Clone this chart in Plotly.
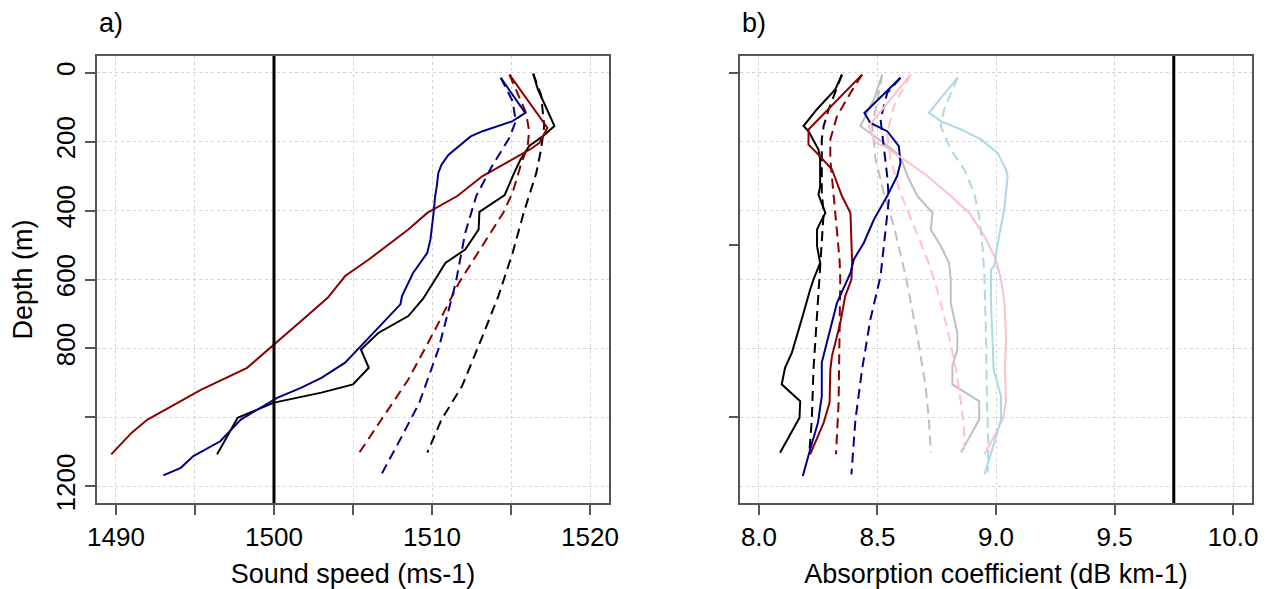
import plotly.graph_objects as go

# ---------------- Panel a: sound speed (m s-1) vs depth (m) ----------------
ss_black_solid_depth = [3, 49, 155, 185, 213, 252, 291, 355, 404, 455, 513, 552, 600, 655, 706, 755, 803, 856, 904, 928, 957, 1001, 1107]
ss_black_solid = [1516.4, 1516.7, 1517.75, 1517.0, 1516.15, 1515.6, 1515.2, 1514.6, 1513.0, 1512.95, 1512.1, 1510.85, 1510.2, 1509.45, 1508.5, 1506.6, 1505.5, 1506.0, 1505.0, 1503.0, 1500.0, 1497.7, 1496.4]

ss_black_dash_depth = [3, 64, 155, 223, 291, 407, 523, 648, 764, 909, 1006, 1102]
ss_black_dash = [1516.4, 1516.9, 1517.1, 1516.9, 1516.6, 1515.8, 1515.1, 1514.2, 1513.2, 1511.9, 1510.6, 1509.7]

ss_red_solid_depth = [6, 160, 204, 223, 267, 300, 358, 407, 455, 542, 590, 653, 721, 788, 856, 919, 1006, 1044, 1107]
ss_red_solid = [1514.9, 1517.3, 1516.8, 1516.2, 1514.5, 1513.2, 1511.6, 1509.7, 1508.5, 1506.0, 1504.5, 1503.4, 1501.7, 1500.0, 1498.3, 1495.4, 1492.0, 1491.0, 1489.7]

ss_red_dash_depth = [6, 117, 170, 213, 271, 348, 407, 503, 610, 745, 890, 1006, 1102]
ss_red_dash = [1514.9, 1515.95, 1516.15, 1516.05, 1515.6, 1515.1, 1514.5, 1513.2, 1511.7, 1510.2, 1508.5, 1506.8, 1505.4]

ss_blue_solid_depth = [15, 117, 141, 155, 170, 185, 213, 238, 267, 291, 330, 358, 407, 484, 523, 581, 648, 672, 759, 841, 885, 914, 943, 1006, 1069, 1112, 1146, 1168]
ss_blue_solid = [1514.35, 1515.9, 1515.1, 1514.2, 1513.2, 1512.45, 1511.7, 1511.05, 1510.6, 1510.4, 1510.3, 1510.2, 1510.1, 1509.9, 1509.7, 1508.8, 1508.1, 1508.0, 1506.2, 1504.5, 1503.0, 1501.7, 1500.2, 1497.9, 1496.6, 1494.9, 1494.1, 1493.0]

ss_blue_dash_depth = [15, 83, 141, 189, 271, 358, 465, 610, 803, 957, 1054, 1165]
ss_blue_dash = [1514.35, 1515.1, 1515.3, 1514.9, 1513.8, 1512.8, 1512.1, 1511.5, 1510.4, 1509.2, 1508.1, 1506.8]

ss_reference_line = 1500

# ---------------- Panel b: absorption coefficient (dB km-1) vs depth ----------------
ab_black_solid_depth = [6, 49, 107, 155, 170, 223, 252, 330, 354, 407, 436, 455, 503, 552, 600, 629, 697, 764, 812, 856, 904, 953, 1001, 1102]
ab_black_solid = [8.350, 8.322, 8.244, 8.188, 8.209, 8.251, 8.258, 8.258, 8.251, 8.280, 8.258, 8.245, 8.245, 8.258, 8.230, 8.216, 8.188, 8.160, 8.139, 8.110, 8.096, 8.174, 8.171, 8.089]

ab_black_dash_depth = [6, 107, 155, 194, 252, 349, 407, 494, 590, 716, 861, 1006, 1098]
ab_black_dash = [8.350, 8.294, 8.273, 8.265, 8.265, 8.265, 8.273, 8.265, 8.256, 8.245, 8.230, 8.223, 8.213]

ab_red_solid_depth = [6, 165, 209, 243, 281, 358, 407, 552, 600, 648, 726, 822, 861, 957, 1015, 1107]
ab_red_solid = [8.435, 8.209, 8.209, 8.258, 8.308, 8.350, 8.386, 8.393, 8.390, 8.364, 8.343, 8.308, 8.301, 8.298, 8.273, 8.216]

ab_red_dash_depth = [6, 59, 127, 194, 252, 349, 445, 542, 600, 764, 957, 1107]
ab_red_dash = [8.435, 8.386, 8.329, 8.301, 8.301, 8.315, 8.329, 8.340, 8.343, 8.340, 8.336, 8.325]

ab_blue_solid_depth = [15, 117, 146, 170, 213, 262, 300, 358, 426, 494, 542, 581, 668, 764, 841, 938, 1015, 1093, 1170]
ab_blue_solid = [8.597, 8.445, 8.470, 8.541, 8.590, 8.597, 8.583, 8.541, 8.485, 8.442, 8.400, 8.386, 8.329, 8.294, 8.265, 8.265, 8.249, 8.216, 8.185]

ab_blue_dash_depth = [15, 59, 136, 213, 300, 368, 465, 590, 716, 861, 1006, 1165]
ab_blue_dash = [8.597, 8.541, 8.513, 8.527, 8.541, 8.548, 8.534, 8.513, 8.470, 8.435, 8.407, 8.390]

ab_grey_solid_depth = [6, 78, 155, 175, 204, 243, 300, 358, 407, 455, 503, 552, 600, 668, 755, 803, 851, 904, 953, 1006, 1102]
ab_grey_solid = [8.520, 8.485, 8.428, 8.470, 8.527, 8.597, 8.626, 8.668, 8.732, 8.725, 8.767, 8.802, 8.809, 8.809, 8.837, 8.837, 8.816, 8.816, 8.929, 8.929, 8.852]

ab_grey_dash_depth = [6, 107, 155, 252, 349, 445, 542, 590, 764, 909, 1006, 1102]
ab_grey_dash = [8.520, 8.492, 8.478, 8.492, 8.527, 8.569, 8.604, 8.619, 8.668, 8.703, 8.717, 8.725]

ab_pink_solid_depth = [6, 88, 155, 204, 213, 252, 300, 358, 407, 474, 542, 600, 668, 764, 861, 957, 1006, 1054, 1107]
ab_pink_solid = [8.640, 8.541, 8.463, 8.492, 8.527, 8.612, 8.711, 8.809, 8.887, 8.951, 9.000, 9.021, 9.036, 9.042, 9.038, 9.042, 9.028, 8.993, 8.951]

ab_pink_dash_depth = [6, 98, 175, 252, 349, 445, 542, 600, 668, 764, 861, 957, 1035, 1093]
ab_pink_dash = [8.640, 8.569, 8.541, 8.555, 8.597, 8.654, 8.711, 8.739, 8.767, 8.802, 8.831, 8.852, 8.866, 8.866]

ab_lblue_solid_depth = [15, 117, 141, 165, 194, 233, 281, 300, 349, 397, 445, 494, 523, 561, 571, 668, 764, 861, 938, 1006, 1073, 1122, 1165]
ab_lblue_solid = [8.838, 8.717, 8.767, 8.852, 8.936, 9.007, 9.042, 9.049, 9.042, 9.035, 9.021, 9.007, 9.000, 8.993, 8.979, 8.979, 8.986, 8.990, 9.021, 9.021, 8.993, 8.972, 8.951]

ab_lblue_dash_depth = [15, 107, 155, 223, 281, 349, 416, 503, 590, 764, 957, 1083, 1160]
ab_lblue_dash = [8.838, 8.781, 8.767, 8.809, 8.866, 8.908, 8.929, 8.943, 8.951, 8.958, 8.962, 8.968, 8.965]

ab_reference_line = 9.75

# ---------------- axis ticks ----------------
depth_grid = [0, 200, 400, 600, 800, 1000, 1200]
depth_labels = ["0", "200", "400", "600", "800", "", "1200"]
ss_ticks = [1490, 1495, 1500, 1505, 1510, 1515, 1520]
ss_labels = ["1490", "", "1500", "", "1510", "", "1520"]
ab_ticks = [8.0, 8.5, 9.0, 9.5, 10.0]
ab_labels = ["8.0", "8.5", "9.0", "9.5", "10.0"]
ab_depth_ticks = [0, 500, 1000]

# ---------------- styling ----------------
FONT = "Liberation Sans, Arial, sans-serif"
FS_TICK = 26
FS_TITLE = 27
FRAME = "#555555"
GRID = "#d3d3d3"
DASH = "10px,6px"
LW = 2

fig = go.Figure()

left_series = [
    (ss_black_solid, ss_black_solid_depth, "black", "solid"),
    (ss_black_dash, ss_black_dash_depth, "black", DASH),
    (ss_red_solid, ss_red_solid_depth, "#8B0000", "solid"),
    (ss_red_dash, ss_red_dash_depth, "#8B0000", DASH),
    (ss_blue_solid, ss_blue_solid_depth, "#00008B", "solid"),
    (ss_blue_dash, ss_blue_dash_depth, "#00008B", DASH),
]
for xs, ys, col, dash in left_series:
    fig.add_trace(go.Scatter(x=xs, y=ys, mode="lines", xaxis="x", yaxis="y",
                             line=dict(color=col, width=LW, dash=dash), showlegend=False))

right_series = [
    (ab_black_solid, ab_black_solid_depth, "black", "solid"),
    (ab_black_dash, ab_black_dash_depth, "black", DASH),
    (ab_red_solid, ab_red_solid_depth, "#8B0000", "solid"),
    (ab_red_dash, ab_red_dash_depth, "#8B0000", DASH),
    (ab_grey_solid, ab_grey_solid_depth, "#BEBEBE", "solid"),
    (ab_grey_dash, ab_grey_dash_depth, "#BEBEBE", DASH),
    (ab_blue_solid, ab_blue_solid_depth, "#00008B", "solid"),
    (ab_blue_dash, ab_blue_dash_depth, "#00008B", DASH),
    (ab_pink_solid, ab_pink_solid_depth, "#FFC0CB", "solid"),
    (ab_pink_dash, ab_pink_dash_depth, "#FFC0CB", DASH),
    (ab_lblue_solid, ab_lblue_solid_depth, "#ADD8E6", "solid"),
    (ab_lblue_dash, ab_lblue_dash_depth, "#ADD8E6", DASH),
]
for xs, ys, col, dash in right_series:
    fig.add_trace(go.Scatter(x=xs, y=ys, mode="lines", xaxis="x2", yaxis="y2",
                             line=dict(color=col, width=LW, dash=dash), showlegend=False))

# empty trace to keep the tick-only overlay axis alive
fig.add_trace(go.Scatter(x=[None], y=[None], xaxis="x2", yaxis="y3", showlegend=False))

fig.add_shape(type="line", xref="x", yref="y domain", x0=ss_reference_line, x1=ss_reference_line,
              y0=0, y1=1, line=dict(color="black", width=3))
fig.add_shape(type="line", xref="x2", yref="y2 domain", x0=ab_reference_line, x1=ab_reference_line,
              y0=0, y1=1, line=dict(color="black", width=3))

W, H = 1266, 589
xl = [97 / W, 609 / W]
xr = [740 / W, 1252 / W]
yd = [1 - 503 / H, 1 - 56 / H]
depth_range = [1248, -48]

common_axis = dict(showline=True, linecolor=FRAME, linewidth=1.5, mirror=True,
                   ticks="outside", ticklen=10, tickcolor=FRAME, tickwidth=1.5,
                   gridcolor=GRID, griddash="dot", gridwidth=1, zeroline=False,
                   automargin=False, tickfont=dict(family=FONT, size=FS_TICK, color="black"))

fig.update_layout(
    width=W, height=H,
    margin=dict(l=0, r=0, t=0, b=0),
    plot_bgcolor="white", paper_bgcolor="white",
    font=dict(family=FONT, size=FS_TICK, color="black"),
    xaxis=dict(common_axis, domain=xl, anchor="y", range=[1488.8, 1521.2],
               tickmode="array", tickvals=ss_ticks, ticktext=ss_labels, showgrid=True,
               title=dict(text="Sound speed (ms-1)", standoff=16,
                          font=dict(family=FONT, size=FS_TITLE, color="black"))),
    yaxis=dict(common_axis, domain=yd, anchor="x", range=depth_range,
               tickmode="array", tickvals=depth_grid, ticktext=depth_labels, tickangle=-90,
               showgrid=True,
               title=dict(text="Depth (m)", standoff=10,
                          font=dict(family=FONT, size=FS_TITLE, color="black"))),
    xaxis2=dict(common_axis, domain=xr, anchor="y2", range=[7.92, 10.08],
                tickmode="array", tickvals=ab_ticks, ticktext=ab_labels, showgrid=True,
                title=dict(text="Absorption coefficient (dB km-1)", standoff=16,
                           font=dict(family=FONT, size=FS_TITLE, color="black"))),
    yaxis2=dict(common_axis, domain=yd, anchor="x2", range=depth_range,
                tickmode="array", tickvals=depth_grid, ticks="", showticklabels=False,
                showgrid=True),
    yaxis3=dict(overlaying="y2", anchor="x2", side="left", range=depth_range,
                tickmode="array", tickvals=ab_depth_ticks, ticks="outside", ticklen=10,
                tickcolor=FRAME, tickwidth=1.5, showticklabels=False, showgrid=False,
                showline=False, zeroline=False, automargin=False),
    annotations=[
        dict(text="a)", xref="paper", yref="paper", x=97 / W, y=1 - 23 / H,
             xanchor="left", yanchor="middle", showarrow=False,
             font=dict(family=FONT, size=FS_TITLE, color="black")),
        dict(text="b)", xref="paper", yref="paper", x=740 / W, y=1 - 23 / H,
             xanchor="left", yanchor="middle", showarrow=False,
             font=dict(family=FONT, size=FS_TITLE, color="black")),
    ],
)

fig.write_html("out.html")
